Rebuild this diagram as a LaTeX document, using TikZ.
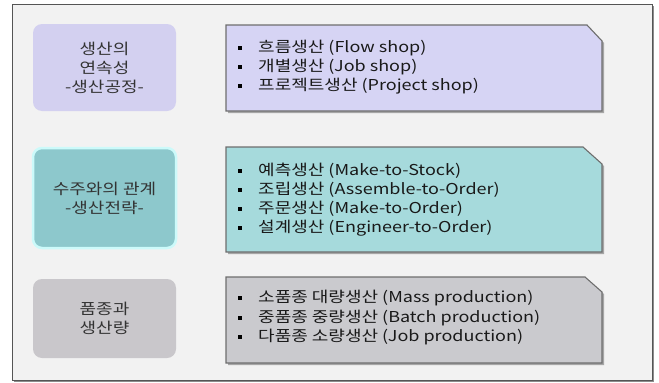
\documentclass[tikz,border=0pt]{standalone}
\usepackage{fontspec}
\setmainfont{Noto Sans CJK KR}
\newfontfamily\kr[FakeStretch=1.2]{Noto Sans CJK KR}
\usetikzlibrary{positioning}
\definecolor{bg}{HTML}{F2F2F2}
\definecolor{frame}{HTML}{555555}
\definecolor{lavL}{HTML}{D3D0F0}
\definecolor{lavR}{HTML}{D6D4F4}
\definecolor{tealL}{HTML}{8DC8CC}
\definecolor{tealR}{HTML}{A6DADC}
\definecolor{grayL}{HTML}{C9C7CB}
\definecolor{grayR}{HTML}{CACACE}
\definecolor{glow}{HTML}{CCFAFA}
\definecolor{ltxt}{HTML}{333333}
\definecolor{edge}{HTML}{6E6E6E}
\tikzset{
  catbox/.style={rounded corners=9pt, draw=none},
  cattext/.style={font=\kr\fontsize{15}{19}\selectfont, text=ltxt, align=center, inner sep=0pt},
  item/.style={font=\kr\fontsize{15}{16}\selectfont, text=black!90, anchor=west, inner sep=0pt},
  bul/.style={fill=black, minimum size=4pt, inner sep=0pt},
  listbox/.style={draw=edge, line width=1.1pt, line join=miter},
  shade/.style={fill=black!35, draw=none}
}
\begin{document}
\begin{tikzpicture}[x=1pt,y=-1pt]
\useasboundingbox (0,0) rectangle (659,383);
\fill[white] (0,0) rectangle (659,383);
% outer frame with shadow
\fill[black!45] (14,6) rectangle (654,382);
\draw[frame, fill=bg, line width=0.9pt] (12,4) rectangle (652,380);

% left category boxes
\fill[catbox, fill=lavL] (33,24) rectangle (176,111);
\draw[rounded corners=9pt, draw=glow, line width=2.5pt, fill=tealL] (33,148) rectangle (176,248);
\fill[catbox, fill=grayL] (33,279) rectangle (176,358);

\node[cattext] (c1) at (104.5,68) {생산의\\연속성\\-생산공정-};
\node[cattext] (c2) at (104.5,198) {수주와의 관계\\-생산전략-};
\node[cattext] (c3) at (104.5,318) {품종과\\생산량};

% right list boxes with clipped corner and shadow
\fill[shade] (228,27) -- (589,27) -- (604,43) -- (604,113) -- (228,113) -- cycle;
\draw[listbox, fill=lavR] (226,25) -- (587,25) -- (602,41) -- (602,111) -- (226,111) -- cycle;
\fill[shade] (228,149) -- (585,149) -- (604,166) -- (604,254) -- (228,254) -- cycle;
\draw[listbox, fill=tealR] (226,147) -- (583,147) -- (602,164) -- (602,252) -- (226,252) -- cycle;
\fill[shade] (228,279) -- (587,279) -- (604,294) -- (604,365) -- (228,365) -- cycle;
\draw[listbox, fill=grayR] (226,277) -- (585,277) -- (602,292) -- (602,363) -- (226,363) -- cycle;

% items box 1
\node[bul] (b11) at (240,48) {}; \node[item] (t11) at (258,48) {흐름생산 (Flow shop)};
\node[bul] (b12) at (240,67) {}; \node[item] (t12) at (258,67) {개별생산 (Job shop)};
\node[bul] (b13) at (240,86) {}; \node[item] (t13) at (258,86) {프로젝트생산 (Project shop)};
% items box 2
\node[bul] (b21) at (240,171) {}; \node[item] (t21) at (258,171) {예측생산 (Make-to-Stock)};
\node[bul] (b22) at (240,190) {}; \node[item] (t22) at (258,190) {조립생산 (Assemble-to-Order)};
\node[bul] (b23) at (240,209) {}; \node[item] (t23) at (258,209) {주문생산 (Make-to-Order)};
\node[bul] (b24) at (240,228) {}; \node[item] (t24) at (258,228) {설계생산 (Engineer-to-Order)};
% items box 3
\node[bul] (b31) at (240,298) {}; \node[item] (t31) at (258,298) {소품종 대량생산 (Mass production)};
\node[bul] (b32) at (240,318) {}; \node[item] (t32) at (258,318) {중품종 중량생산 (Batch production)};
\node[bul] (b33) at (240,337) {}; \node[item] (t33) at (258,337) {다품종 소량생산 (Job production)};
\end{tikzpicture}
\end{document}
